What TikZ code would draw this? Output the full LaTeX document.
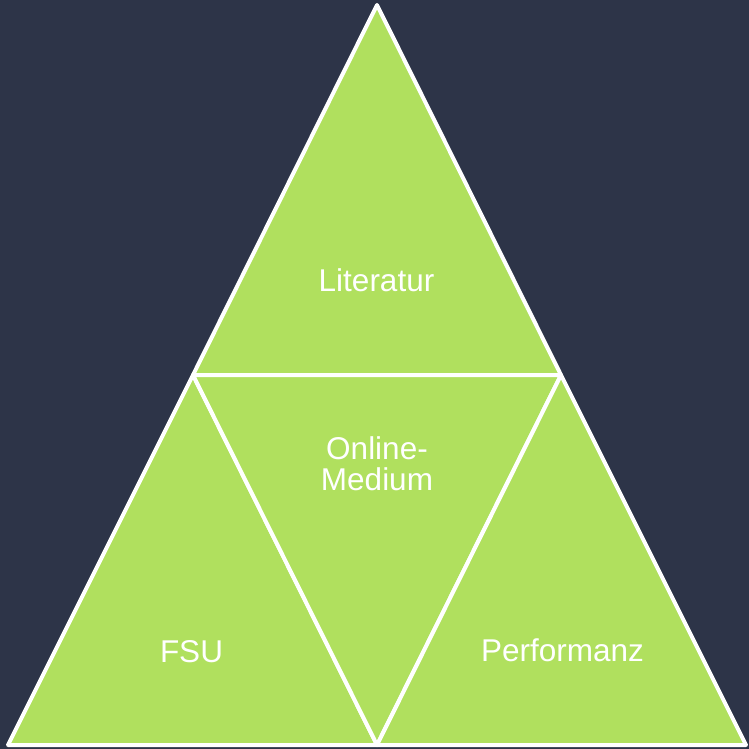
\documentclass[tikz,border=0pt]{standalone}
\usepackage{fontspec}
\setmainfont{Liberation Sans}
\definecolor{bgnavy}{RGB}{45,52,72}
\definecolor{leafgreen}{RGB}{176,224,94}
\begin{document}
\begin{tikzpicture}[x=1pt,y=-1pt,
  tri/.style={fill=leafgreen,draw=white,line width=4pt,line join=round},
  lbl/.style={text=white,font=\fontsize{31.5}{31}\selectfont,anchor=base,align=center,inner sep=0pt}]
\fill[bgnavy] (0,0) rectangle (749,749);
\useasboundingbox (0,0) rectangle (749,749);
\coordinate (A) at (377,5);
\coordinate (L) at (193,375);
\coordinate (R) at (561,375);
\coordinate (BL) at (8,745);
\coordinate (BM) at (377,745);
\coordinate (BR) at (746,745);
\draw[tri] (A) -- (L) -- (R) -- cycle;
\draw[tri] (L) -- (BL) -- (BM) -- cycle;
\draw[tri] (L) -- (R) -- (BM) -- cycle;
\draw[tri] (R) -- (BM) -- (BR) -- cycle;
\node[lbl] (lit) at (376.5,291) {Literatur};
\node[lbl] (onl) at (377,490) {Online-\\Medium};
\node[lbl] (fsu) at (191.5,662) {FSU};
\node[lbl] (perf) at (562.5,661) {Performanz};
\end{tikzpicture}
\end{document}
